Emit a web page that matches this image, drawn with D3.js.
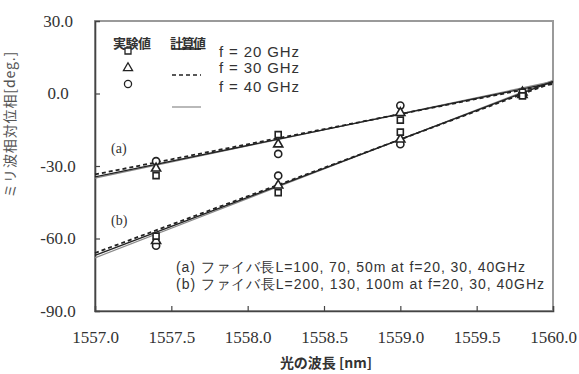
<!DOCTYPE html>
<html lang="ja">
<head>
  <meta charset="UTF-8">
  <script src="https://d3js.org/d3.v7.min.js"></script>
  <title>ミリ波相対位相</title>
  <style>
    body { margin: 0; background: #fff; }
  </style>
</head>
<body>
<div id="my_dataviz"></div>
<script>

// measured wavelengths [nm]
var wavelengths = [1557.4, 1558.2, 1559.0, 1559.8];

// measured phase [deg.] -- (a) group
var measA_f20 = [-34, -17, -11, 0.5];
var measA_f30 = [-31, -21, -8, -0.5];
var measA_f40 = [-28, -25, -5, 0];
// (b) group
var measB_f20 = [-59, -41, -16, -1];
var measB_f30 = [-61, -38, -19, 0.5];
var measB_f40 = [-63, -34, -21, -0.5];

// calculated lines, end points at 1557.0 and 1560.0
var lineX = [1557.0, 1560.0];
var calcA_f20 = [-34.5, 4.5];
var calcA_f30 = [-33.5, 4.0];
var calcA_f40 = [-35.0, 5.0];
var calcB_f20 = [-67.0, 5.0];
var calcB_f30 = [-66.0, 4.5];
var calcB_f40 = [-68.0, 5.5];

var xTicks = [1557.0, 1557.5, 1558.0, 1558.5, 1559.0, 1559.5, 1560.0];
var yTicks = [30, 0, -30, -60, -90];

var margin = {top: 21, right: 26, bottom: 63, left: 95},
    width = 579 - margin.left - margin.right,
    height = 374 - margin.top - margin.bottom;

var svg = d3.select("#my_dataviz")
  .append("svg")
    .attr("width", 579)
    .attr("height", 374)
    .style("font-family", "'Liberation Sans', Arial, sans-serif")
  .append("g")
    .attr("transform", "translate(" + margin.left + "," + margin.top + ")");

var x = d3.scaleLinear().domain([1557, 1560]).range([0, width]);
var y = d3.scaleLinear().domain([-90, 30]).range([height, 0]);
var fmt = function(d) { return d.toFixed(1); };

// frame
svg.append("rect")
  .attr("width", width).attr("height", height)
  .attr("fill", "none")
  .attr("stroke", "#9a9a9a")
  .attr("stroke-width", 2);

// axes, ticks inward
var xAxis = svg.append("g")
  .attr("transform", "translate(0," + height + ")")
  .call(d3.axisBottom(x).tickValues(xTicks).tickSize(-5).tickPadding(20).tickFormat(fmt));
var yAxis = svg.append("g")
  .call(d3.axisLeft(y).tickValues(yTicks).tickSize(-5).tickPadding(22).tickFormat(fmt));

[xAxis, yAxis].forEach(function(a) {
  a.attr("font-family", "'Liberation Serif', 'Times New Roman', serif")
   .attr("font-size", 17);
  a.select(".domain").attr("stroke", "#444").attr("stroke-width", 1.6);
  a.selectAll(".tick line").attr("stroke", "#444").attr("stroke-width", 1.2);
  a.selectAll(".tick text").attr("fill", "#333");
});
xAxis.selectAll(".tick").filter(function(d) { return d === 1557 || d === 1560; }).select("line").remove();
yAxis.selectAll(".tick").filter(function(d) { return d === 30 || d === -90; }).select("line").remove();
yAxis.selectAll(".tick text").attr("text-anchor", "middle").attr("x", -37);

// calculated lines
var line = d3.line()
  .x(function(d, i) { return x(lineX[i]); })
  .y(function(d) { return y(d); });

var lineStyles = [
  {data: [calcA_f40, calcB_f40], stroke: "#8a8a8a", w: 1.2, dash: null},
  {data: [calcA_f20, calcB_f20], stroke: "#222", w: 1.3, dash: null},
  {data: [calcA_f30, calcB_f30], stroke: "#222", w: 1.8, dash: "4,3"}
];
lineStyles.forEach(function(s) {
  s.data.forEach(function(arr) {
    svg.append("path")
      .datum(arr)
      .attr("d", line)
      .attr("fill", "none")
      .attr("stroke", s.stroke)
      .attr("stroke-width", s.w)
      .attr("stroke-dasharray", s.dash);
  });
});

// measured markers
var sq = d3.symbol().type(d3.symbolSquare).size(36);
var tri = d3.symbol().type(d3.symbolTriangle).size(36);
var circ = d3.symbol().type(d3.symbolCircle).size(40);

var markerSets = [
  {data: measA_f40, sym: circ}, {data: measB_f40, sym: circ},
  {data: measA_f30, sym: tri}, {data: measB_f30, sym: tri},
  {data: measA_f20, sym: sq}, {data: measB_f20, sym: sq}
];
markerSets.forEach(function(m) {
  svg.selectAll(null)
    .data(m.data)
    .enter()
    .append("path")
      .attr("d", m.sym)
      .attr("transform", function(d, i) { return "translate(" + x(wavelengths[i]) + "," + y(d) + ")"; })
      .attr("fill", "#fff")
      .attr("stroke", "#222")
      .attr("stroke-width", 1.6);
});

// legend
var leg = svg.append("g").attr("fill", "#333");
leg.append("text").attr("x", 18).attr("y", 27).text("実験値")
  .style("font-family", "'Noto Sans CJK JP', sans-serif").style("font-size", "13px")
  .style("font-weight", "bold").attr("textLength", 38);
leg.append("text").attr("x", 75).attr("y", 27).text("計算値")
  .style("font-family", "'Noto Sans CJK JP', sans-serif").style("font-size", "13px")
  .style("font-weight", "bold").attr("textLength", 36);

var legRows = [
  {sym: sq, ly: 28, label: "f = 20 GHz", ty: 36, stroke: "#222", w: 1.6, dash: null},
  {sym: tri, ly: 54, label: "f = 30 GHz", ty: 52, stroke: "#222", w: 1.6, dash: "4,3"},
  {sym: circ, ly: 86, label: "f = 40 GHz", ty: 71, stroke: "#8a8a8a", w: 1.2, dash: null}
];
var legSymY = [30, 47, 63];
legRows.forEach(function(r, i) {
  leg.append("path").attr("d", r.sym)
    .attr("transform", "translate(33," + legSymY[i] + ")")
    .attr("fill", "#fff").attr("stroke", "#222").attr("stroke-width", 1.3);
  leg.append("line").attr("x1", 77).attr("x2", 106).attr("y1", r.ly).attr("y2", r.ly)
    .attr("stroke", r.stroke).attr("stroke-width", r.w).attr("stroke-dasharray", r.dash);
  leg.append("text").attr("x", 124).attr("y", r.ty).text(r.label)
    .style("font-size", "15px").attr("textLength", 80);
});

// group labels
svg.append("text").attr("x", 16).attr("y", 132).text("(a)")
  .attr("fill", "#333").style("font-family", "'Liberation Serif', serif").style("font-size", "14px");
svg.append("text").attr("x", 16).attr("y", 204).text("(b)")
  .attr("fill", "#333").style("font-family", "'Liberation Serif', serif").style("font-size", "14px");

// notes
svg.append("text").attr("x", 81).attr("y", 251).text("(a) ファイバ長L=100, 70, 50m at f=20, 30, 40GHz")
  .attr("fill", "#333").style("font-size", "14px").attr("textLength", 349);
svg.append("text").attr("x", 81).attr("y", 268).text("(b) ファイバ長L=200, 130, 100m at f=20, 30, 40GHz")
  .attr("fill", "#333").style("font-size", "14px").attr("textLength", 368);

// axis titles
svg.append("text")
  .attr("x", width / 2 + 2)
  .attr("y", height + 57)
  .attr("text-anchor", "middle")
  .attr("fill", "#333")
  .style("font-family", "'Noto Sans CJK JP', sans-serif")
  .style("font-size", "14px")
  .style("font-weight", "bold")
  .text("光の波長 [nm]");

svg.append("text")
  .attr("transform", "translate(-80," + (y(-15) - 5) + ")rotate(-90)")
  .attr("text-anchor", "middle")
  .attr("fill", "#555")
  .style("font-family", "'Noto Sans CJK JP', sans-serif")
  .style("font-size", "14px")
  .attr("textLength", 146)
  .text("ミリ波相対位相[deg.]");

</script>
</body>
</html>
